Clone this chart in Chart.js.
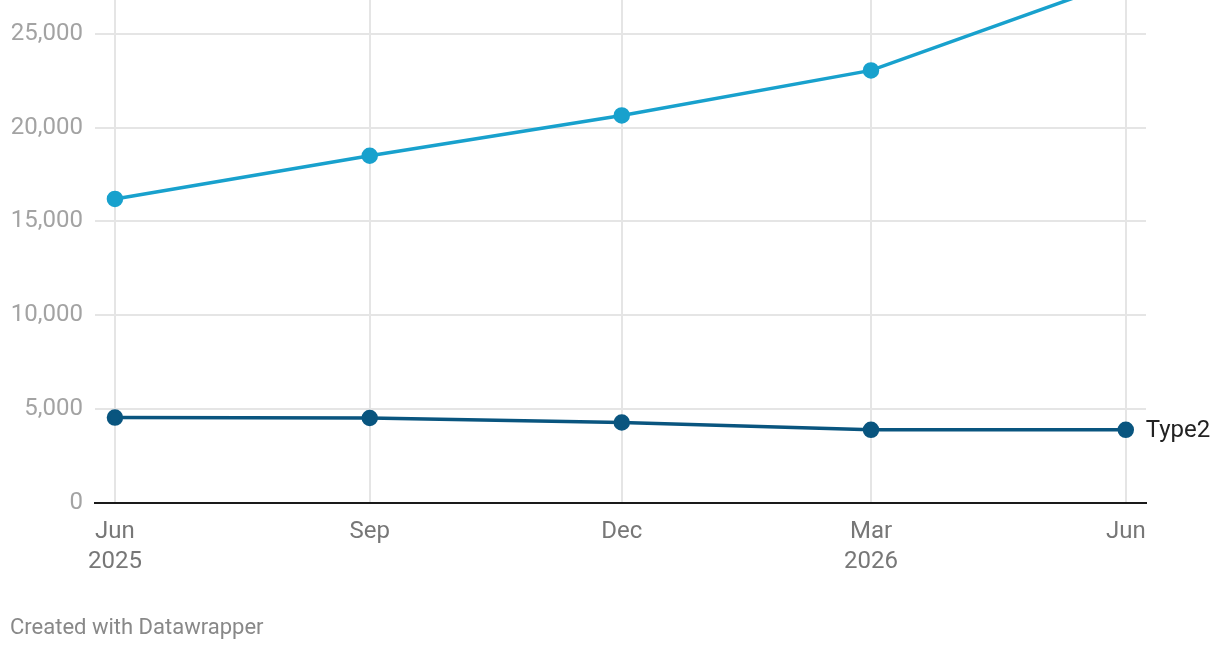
<!DOCTYPE html>
<html>
<head>
<meta charset="utf-8">
<script src="https://cdn.jsdelivr.net/npm/chart.js@4.4.1/dist/chart.umd.min.js"></script>
<style>
  body { margin: 0; background: #fff; font-family: Roboto, sans-serif; }
  #wrap { position: relative; width: 1220px; height: 650px; }
  #footer { position: absolute; left: 10px; top: 614px; font-size: 22px; color: #888; }
</style>
</head>
<body>
<div id="wrap">
  <canvas id="lineChart" width="1220" height="650"></canvas>
  <div id="footer">Created with Datawrapper</div>
</div>
<script>
// days since 1 Jun 2025
const dayOffsets = [0, 92, 183, 273, 365];
const monthLabels = ['Jun', 'Sep', 'Dec', 'Mar', 'Jun'];
const yearLabels = ['2025', '', '', '2026', ''];
const type1 = [16200, 18500, 20650, 23050, 27900];
const type2 = [4550, 4530, 4290, 3900, 3900];
const yTicks = [0, 5000, 10000, 15000, 20000, 25000];

const toPoints = vals => vals.map((v, i) => ({ x: dayOffsets[i], y: v }));

const endLabel = {
  id: 'endLabel',
  afterDatasetsDraw(chart) {
    const meta = chart.getDatasetMeta(1);
    const pt = meta.data[meta.data.length - 1];
    const c = chart.ctx;
    c.save();
    c.font = '24px Roboto';
    c.fillStyle = '#222';
    c.textBaseline = 'middle';
    c.fillText(chart.data.datasets[1].label, pt.x + 20, pt.y + 1);
    c.restore();
  }
};

const ctx = document.getElementById('lineChart').getContext('2d');
const chart = new Chart(ctx, {
  type: 'line',
  data: {
    datasets: [{
      label: 'Type1',
      data: toPoints(type1),
      borderColor: '#18a1cd',
      backgroundColor: '#18a1cd',
      borderWidth: 3.5,
      pointRadius: 6.5,
      pointHoverRadius: 6.5,
      tension: 0
    }, {
      label: 'Type2',
      data: toPoints(type2),
      borderColor: '#09557f',
      backgroundColor: '#09557f',
      borderWidth: 3.5,
      pointRadius: 6.5,
      pointHoverRadius: 6.5,
      tension: 0
    }]
  },
  options: {
    responsive: false,
    animation: false,
    layout: { autoPadding: false, padding: { top: 0, right: 74, left: 0, bottom: 0 } },
    plugins: {
      legend: { display: false },
      tooltip: { enabled: false }
    },
    scales: {
      x: {
        type: 'linear',
        min: -7.2,
        max: 372.3,
        afterBuildTicks: s => { s.ticks = dayOffsets.map(v => ({ value: v })); },
        afterFit: s => { s.height = 147; s.paddingLeft = 0; s.paddingRight = 0; },
        grid: { color: '#e5e5e5', lineWidth: 2, drawTicks: false },
        border: { color: '#1a1a1a', width: 2 },
        ticks: {
          autoSkip: false,
          maxRotation: 0,
          padding: 14,
          color: '#777',
          font: { family: 'Roboto', size: 24, lineHeight: 1.25 },
          callback: (v, i) => yearLabels[i] ? [monthLabels[i], yearLabels[i]] : monthLabels[i]
        }
      },
      y: {
        min: 0,
        max: 26800,
        afterBuildTicks: s => { s.ticks = yTicks.map(v => ({ value: v })); },
        afterFit: s => { s.width = 95; s.paddingTop = 0; s.paddingBottom = 0; },
        grid: {
          color: c => c.tick && c.tick.value === 0 ? 'rgba(0,0,0,0)' : '#e5e5e5',
          lineWidth: 2,
          drawTicks: false
        },
        border: { display: false },
        ticks: {
          padding: 12,
          color: '#a3a3a3',
          font: { family: 'Roboto', size: 24 },
          callback: v => v.toLocaleString('en-US')
        }
      }
    }
  },
  plugins: [endLabel]
});
</script>
</body>
</html>
